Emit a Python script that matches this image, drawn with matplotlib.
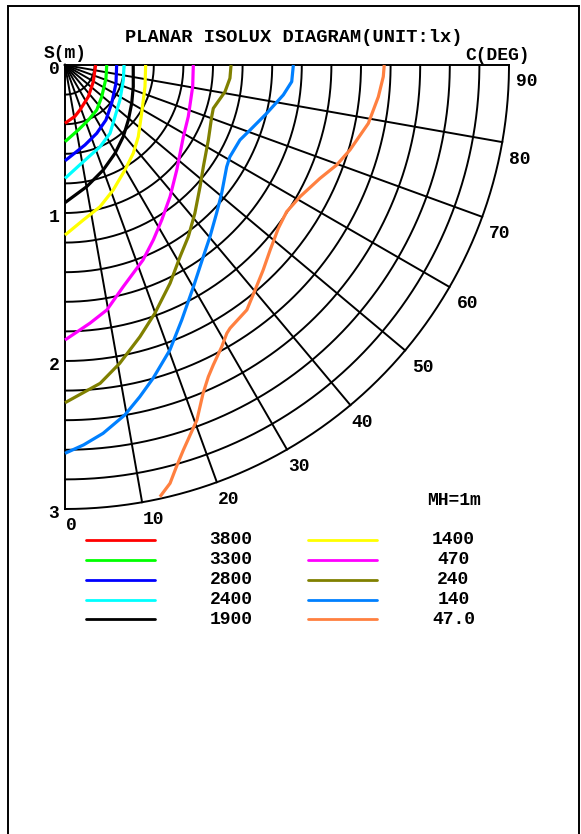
import numpy as np
import matplotlib
matplotlib.use("Agg")
import matplotlib.pyplot as plt
from matplotlib.patches import Rectangle

plt.rcParams['font.family'] = ['Liberation Mono', 'DejaVu Sans Mono']
plt.rcParams['font.weight'] = 'bold'

# isolux curves: C plane (deg) and distance S (m)
c_3800 = [90, 59.5, 36.3, 18.4, 11.0, 0]
s_3800 = [0.207, 0.222, 0.266, 0.320, 0.353, 0.394]

c_3300 = [90, 72.0, 49.2, 35.2, 23.0, 11.6, 0]
s_3300 = [0.282, 0.291, 0.328, 0.372, 0.404, 0.448, 0.518]

c_2800 = [90, 70.3, 50.6, 36.7, 24.9, 14.0, 0]
s_2800 = [0.349, 0.366, 0.408, 0.463, 0.509, 0.557, 0.647]

c_2400 = [90, 75.6, 57.5, 44.0, 33.4, 23.2, 10.7, 0]
s_2400 = [0.399, 0.407, 0.440, 0.486, 0.553, 0.601, 0.665, 0.766]

c_1900 = [90, 72.4, 60.1, 49.0, 39.1, 29.5, 20.0, 10.1, 0]
s_1900 = [0.461, 0.484, 0.520, 0.567, 0.624, 0.686, 0.755, 0.835, 0.930]

c_1400 = [90, 74.8, 57.8, 45.6, 37.7, 29.7, 21.1, 13.9, 6.7, 0]
s_1400 = [0.545, 0.560, 0.612, 0.693, 0.754, 0.817, 0.905, 0.986, 1.055, 1.149]

c_470 = [90, 80.4, 67.3, 58.8, 46.8, 38.6, 32.0, 26.8, 21.8, 14.7, 9.7, 5.5, 0]
s_470 = [0.867, 0.875, 0.903, 0.935, 1.036, 1.138, 1.234, 1.324, 1.419, 1.549,
         1.679, 1.753, 1.858]

c_240 = [90, 85.4, 80.5, 73.7, 70.6, 62.4, 53.7, 48.0, 41.2, 35.7, 31.0, 25.7,
         19.9, 15.4, 10.4, 6.3, 0]
s_240 = [1.122, 1.118, 1.096, 1.044, 1.051, 1.093, 1.160, 1.228, 1.332, 1.428,
         1.510, 1.637, 1.784, 1.905, 2.049, 2.164, 2.282]

c_140 = [90, 85.8, 82.2, 76.5, 70.6, 66.8, 60.9, 57.8, 50.7, 45.6, 40.2, 35.8,
         30.1, 24.6, 20.2, 15.7, 12.7, 9.7, 5.9, 2.8, 0]
s_140 = [1.543, 1.536, 1.489, 1.401, 1.325, 1.286, 1.275, 1.291, 1.368, 1.433,
         1.518, 1.597, 1.731, 1.895, 2.052, 2.199, 2.298, 2.399, 2.502, 2.570, 2.624]

c_47 = [90, 87.9, 84.2, 79.1, 73.4, 69.8, 66.0, 60.7, 56.5, 52.6, 48.0, 44.0,
        40.2, 36.6, 32.1, 31.1, 29.1, 26.3, 24.7, 22.8, 20.4, 17.1, 15.5, 14.1, 12.4]
s_47 = [2.157, 2.152, 2.128, 2.087, 2.009, 1.956, 1.885, 1.820, 1.796, 1.815,
        1.866, 1.927, 1.990, 2.061, 2.099, 2.117, 2.178, 2.261, 2.318, 2.407,
        2.558, 2.721, 2.817, 2.914, 2.987]

level_labels = ["3800", "3300", "2800", "2400", "1900",
                "1400", "470", "240", "140", "47.0"]
level_colors = ["#ff0000", "#00ff00", "#0000ff", "#00ffff", "#000000",
                "#ffff00", "#ff00ff", "#808000", "#0080ff", "#ff8040"]
curves = [(c_3800, s_3800), (c_3300, s_3300), (c_2800, s_2800), (c_2400, s_2400),
          (c_1900, s_1900), (c_1400, s_1400), (c_470, s_470), (c_240, s_240),
          (c_140, s_140), (c_47, s_47)]

s_ticks = [0, 1, 2, 3]
c_ticks = [0, 10, 20, 30, 40, 50, 60, 70, 80, 90]
s_rings = np.arange(0.2, 3.01, 0.2)
s_max = 3.0

W, H = 581, 834
OX, OY = 65, 65          # pixel position of the diagram origin
PPM = 148.0              # pixels per metre
px = 1.0 / PPM


def to_xy(c, s):
    c = np.radians(np.asarray(c, dtype=float))
    s = np.asarray(s, dtype=float)
    return s * np.sin(c), -s * np.cos(c)


fig = plt.figure(figsize=(W / 100, H / 100), dpi=100)
ax = fig.add_axes([0, 0, 1, 1])
ax.set_xlim(-OX * px, (W - OX) * px)
ax.set_ylim(-(H - OY) * px, OY * px)
ax.axis('off')

# frame around the sheet
fig.patches.append(Rectangle((8 / W, -0.1), (579 - 8) / W, 1.1 - 6 / H,
                             transform=fig.transFigure, fill=False,
                             edgecolor='k', linewidth=1.4))

# polar grid
cc = np.linspace(0, 90, 200)
for r in s_rings:
    x, y = to_xy(cc, np.full_like(cc, r))
    ax.plot(x, y, color='k', lw=1.4, zorder=1)
for c in c_ticks:
    x, y = to_xy([c, c], [0, s_max])
    ax.plot(x, y, color='k', lw=1.4, zorder=1)

# isolux lines
for (c, s), col in zip(curves, level_colors):
    x, y = to_xy(c, s)
    ax.plot(x, y, color=col, lw=2.3, zorder=3, solid_capstyle='butt')

fs = 13
# S axis labels
for s in s_ticks:
    ax.text(-11 * px, -s - 5 * px, str(s), ha='center', va='center', fontsize=fs)
# C labels
for c in c_ticks:
    x, y = to_xy(c, s_max)
    dx = 1 if c < 45 else 7
    ax.text(x + dx * px, y - 17 * px, str(c), ha='left', va='center', fontsize=fs)

ax.text((294 - OX) * px, (OY - 37) * px, "PLANAR ISOLUX DIAGRAM(UNIT:lx)",
        ha='center', va='center', fontsize=13.5)
ax.text(0, (OY - 53) * px, "S(m)", ha='center', va='center', fontsize=fs)
ax.text((497.5 - OX) * px, (OY - 55) * px, "C(DEG)", ha='center', va='center', fontsize=fs)
ax.text((454 - OX) * px, (OY - 500.7) * px, "MH=1m", ha='center', va='center', fontsize=fs)

# legend, two columns of five
row_y = [540, 560, 580, 599.5, 619.5]
cols = [(86, 155, 231), (308, 377, 453.5)]
for i, (lab, col) in enumerate(zip(level_labels, level_colors)):
    x0, x1, xt = cols[i // 5]
    yy = (OY - row_y[i % 5]) * px
    ax.plot([(x0 - OX) * px, (x1 - OX) * px], [yy, yy], color=col, lw=2.0,
            solid_capstyle='round')
    ax.text((xt - OX) * px, yy, lab, ha='center', va='center', fontsize=fs)

fig.savefig("out.png", dpi=100)
